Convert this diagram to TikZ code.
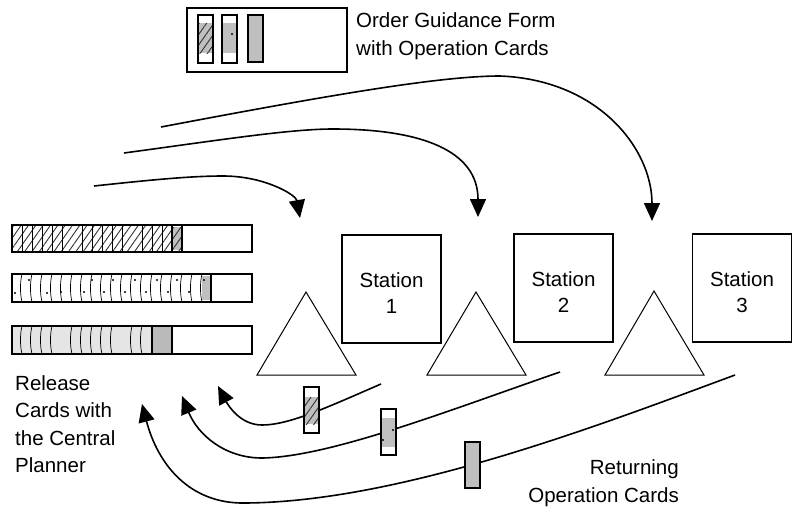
\documentclass[tikz,border=0pt]{standalone}
\usepackage{fontspec}
\setmainfont{Liberation Sans}
\usetikzlibrary{arrows.meta,patterns.meta}
\begin{document}
\begin{tikzpicture}[x=1pt,y=-1pt,
  lbl/.style={font=\fontsize{20.5}{27.5}\selectfont, inner sep=0pt},
  stbox/.style={draw, line width=1.2pt, minimum width=99pt, minimum height=108pt, inner sep=0pt},
  sttext/.style={font=\fontsize{20.5}{25.5}\selectfont, align=center, inner sep=0pt, yshift=-4pt},
  formbox/.style={draw, line width=1.3pt, minimum width=160pt, minimum height=64pt, inner sep=0pt},
  flow/.style={line width=1.6pt, -{Triangle[length=18pt,width=16pt]}},
  tri/.style={draw, line width=1pt, line join=miter},
  cardbox/.style={draw, line width=1.3pt},
  divline/.style={line width=0.7pt},
  bar/.style={draw, line width=1.6pt},
  hatch/.style={pattern={Lines[angle=55,distance=6pt,line width=0.9pt]}, pattern color=black!80},
]
\useasboundingbox (0,0) rectangle (795,517);

% ---------- order guidance form ----------
\node[formbox] (form) at (267,40) {};
\fill[black!25] (198,23) rectangle (213,53);
\fill[hatch] (198,23) rectangle (213,53);
\draw[cardbox] (198,15) rectangle (213,63);
\fill[black!25] (222,23) rectangle (237,53);
\fill (232,34) circle (1.1pt);
\draw[cardbox] (222,15) rectangle (237,63);
\draw[cardbox, fill=black!25] (248,15) rectangle (263,62);
\node[lbl, anchor=west, align=left] (formlbl) at (356,36) {Order Guidance Form\\with Operation Cards};

% ---------- release card bars ----------
% bar 1 (hatched)
\fill[hatch] (12,225) rectangle (172,252);
\fill[black!25] (172,227) rectangle (182,250);
\fill[hatch] (172,227) rectangle (182,250);
\foreach \x in {22,32,42,52,62,82,92,102,112,122,142,152,162}
  \draw[divline] (\x,225) -- (\x,252);
\draw[line width=1.2pt] (172,225) -- (172,252) (182,225) -- (182,252);
\draw[bar] (12,225) rectangle (252,252);
% bar 2 (dotted)
\fill[black!25] (202,276) rectangle (211,300);
\foreach \x [count=\i] in {22,32,42,52,62,72,82,92,102,112,122,132,142,152,162,172,182,192,202}
  \draw[divline] (\x,274) .. controls (\x-2,282) and (\x-2,294) .. (\x,302);
\foreach \x/\y in {15/293,29/280,47/293,61/292,84/292,92/280,104/292,113/280,125/292,135/280,146/292,157/280,168/292,177/280,189/292,204/280}
  \fill (\x,\y) circle (1.1pt);
\draw[line width=1.2pt] (211,274) -- (211,302);
\draw[bar] (12,274) rectangle (252,302);
% bar 3 (grey)
\fill[black!10] (12,326) rectangle (152,354);
\fill[black!27] (152,326) rectangle (172,354);
\foreach \x in {22,32,42,52,72,82,92,102,112,132,142}
  \draw[divline] (\x,326) .. controls (\x-2,334) and (\x-2,346) .. (\x,354);
\draw[line width=1.2pt] (152,326) -- (152,354) (172,326) -- (172,354);
\draw[bar] (12,326) rectangle (252,354);

\node[lbl, anchor=west, align=left] (rel) at (15,424) {Release\\Cards with\\the Central\\Planner};

% ---------- stations ----------
\node[stbox, label={[sttext]center:Station\\1}] (st1) at (391.5,289) {};
\node[stbox, label={[sttext]center:Station\\2}] (st2) at (563.5,288) {};
\node[stbox, label={[sttext]center:Station\\3}] (st3) at (742,288) {};
\draw[tri] (306,292) -- (356,375) -- (257,375) -- cycle;
\draw[tri] (476,292) -- (526,375) -- (427,375) -- cycle;
\draw[tri] (654,291) -- (704,375) -- (605,375) -- cycle;

% ---------- order flow arrows ----------
\coordinate (a1) at (94,186);   \coordinate (b1) at (300,218);
\coordinate (a2) at (124,153);  \coordinate (b2) at (478,217);
\coordinate (a3) at (161,127);  \coordinate (b3) at (652,221);
\draw[flow] (a1) .. controls (150,180) and (190,176) .. (223,176)
               .. controls (265,176) and (296,195) .. (b1);
\draw[flow] (a2) .. controls (220,140) and (290,129) .. (333,129)
               .. controls (420,129) and (478,150) .. (b2);
\draw[flow] (a3) .. controls (330,95) and (440,76) .. (500,76)
               .. controls (600,80) and (652,150) .. (b3);

% ---------- returning arrows ----------
\coordinate (r1) at (381,384);  \coordinate (e1) at (218,386);
\coordinate (r2) at (560,372);  \coordinate (e2) at (182,396);
\coordinate (r3) at (735,375);  \coordinate (e3) at (142,404);
\draw[flow] (r1) .. controls (330,406) and (290,425) .. (262,425)
               .. controls (240,425) and (228,405) .. (e1);
\draw[flow] (r2) .. controls (450,410) and (330,457) .. (262,458)
               .. controls (225,458) and (198,435) .. (e2);
\draw[flow] (r3) .. controls (600,425) and (400,502) .. (245,503)
               .. controls (190,504) and (158,465) .. (e3);

% returning cards
\draw[cardbox, fill=white] (304,387) rectangle (319,433);
\fill[black!25] (305,397) rectangle (318,424);
\fill[hatch] (305,397) rectangle (318,424);
\draw[cardbox, fill=white] (381,409) rectangle (396,455);
\fill[black!25] (382,418) rectangle (395,447);
\fill (393,430) circle (1.1pt) (383,440) circle (1.1pt);
\draw[cardbox, fill=black!25] (465,442) rectangle (480,488);

\node[lbl, anchor=east, align=right] (retlbl) at (679,483) {Returning\\Operation Cards};
\end{tikzpicture}
\end{document}
